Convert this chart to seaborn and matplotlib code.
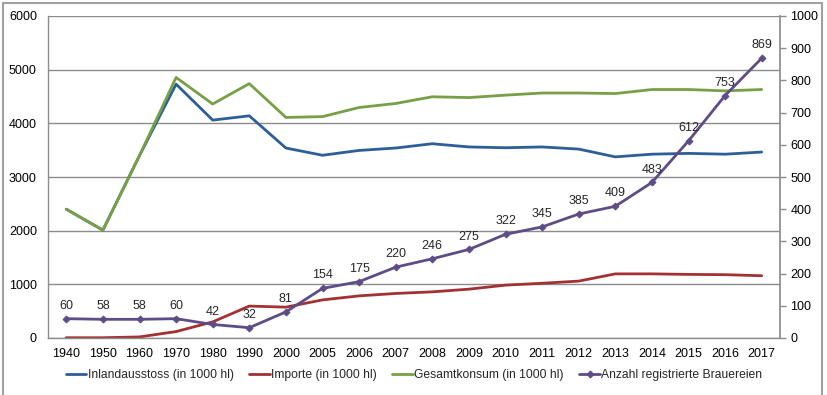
import matplotlib
matplotlib.use("Agg")
import matplotlib.pyplot as plt
import seaborn as sns
import pandas as pd
from matplotlib.patches import Rectangle

# Daten
jahre = ["1940", "1950", "1960", "1970", "1980", "1990", "2000", "2005", "2006", "2007",
         "2008", "2009", "2010", "2011", "2012", "2013", "2014", "2015", "2016", "2017"]
inlandausstoss = [2400, 2010, 3400, 4730, 4060, 4140, 3540, 3405, 3495, 3540,
                  3620, 3560, 3545, 3560, 3520, 3375, 3425, 3440, 3425, 3465]
importe = [5, 5, 20, 120, 300, 595, 575, 710, 785, 830,
           860, 910, 985, 1020, 1060, 1195, 1195, 1185, 1180, 1160]
gesamtkonsum = [2400, 2010, 3400, 4855, 4360, 4740, 4110, 4125, 4295, 4370,
                4495, 4480, 4525, 4565, 4565, 4555, 4630, 4630, 4605, 4630]
brauereien = [60, 58, 58, 60, 42, 32, 81, 154, 175, 220,
              246, 275, 322, 345, 385, 409, 483, 612, 753, 869]

df = pd.DataFrame({
    "pos": range(len(jahre)),
    "Inlandausstoss (in 1000 hl)": inlandausstoss,
    "Importe (in 1000 hl)": importe,
    "Gesamtkonsum (in 1000 hl)": gesamtkonsum,
    "Anzahl registrierte Brauereien": brauereien,
})

sns.set_theme(style="white")
plt.rcParams["font.family"] = ["Liberation Sans", "DejaVu Sans"]

farben = {
    "Inlandausstoss (in 1000 hl)": "#2E5E9A",
    "Importe (in 1000 hl)": "#A33134",
    "Gesamtkonsum (in 1000 hl)": "#77A046",
}
lila = "#5E4C87"
grau = "#8C8C8C"
fs = 9

fig = plt.figure(figsize=(8.28, 3.95), dpi=100)
ax = fig.add_axes([48 / 828, 1 - 338 / 395, 732 / 828, 322 / 395])

for name, col in farben.items():
    sns.lineplot(data=df, x="pos", y=name, ax=ax, color=col, lw=2, label=name, legend=False)

ax.set_ylim(0, 6000)
ax.set_xlim(-0.5, len(jahre) - 0.5)
ax.set_yticks(range(0, 6001, 1000))
ax.set_xticks(df["pos"])
ax.set_xticklabels(jahre)
ax.set_xlabel("")
ax.set_ylabel("")
ax.yaxis.grid(True, color=grau, lw=1)
ax.set_axisbelow(True)
ax.tick_params(axis="x", length=0, pad=7, labelsize=fs, colors="black")
ax.tick_params(axis="y", length=0, pad=8, labelsize=fs, colors="black")
for s in ["top", "right"]:
    ax.spines[s].set_visible(False)
for s in ["left", "bottom"]:
    ax.spines[s].set_color(grau)
    ax.spines[s].set_linewidth(1)

ax2 = ax.twinx()
sns.lineplot(data=df, x="pos", y="Anzahl registrierte Brauereien", ax=ax2, color=lila, lw=2,
             marker="D", markersize=3.5, markeredgecolor=lila, label="Anzahl registrierte Brauereien",
             legend=False)
ax2.set_ylim(0, 1000)
ax2.set_yticks(range(0, 1001, 100))
ax2.set_ylabel("")
ax2.tick_params(axis="y", length=4, width=1, pad=3.5, labelsize=fs, colors="black")
ax2.tick_params(axis="y", color=grau)
for s in ["top", "left", "bottom"]:
    ax2.spines[s].set_visible(False)
ax2.spines["right"].set_color(grau)

for x, v in zip(df["pos"], brauereien):
    ax2.annotate(str(v), (x, v), xytext=(0, 5), textcoords="offset points",
                 ha="center", va="bottom", fontsize=fs)

h1, l1 = ax.get_legend_handles_labels()
h2, l2 = ax2.get_legend_handles_labels()
fig.legend(h1 + h2, l1 + l2, loc="center", bbox_to_anchor=(0.5, 1 - 375 / 395), ncol=4,
           frameon=False, fontsize=8.7, handlelength=1.7, handletextpad=0.1, columnspacing=1.3)

fig.patches.append(Rectangle((3 / 828, -0.02), 819 / 828, 1 - 3 / 395 + 0.02,
                             transform=fig.transFigure, fill=False, edgecolor="#A0A0A0", lw=1.5))

fig.savefig("out.png", dpi=100)
